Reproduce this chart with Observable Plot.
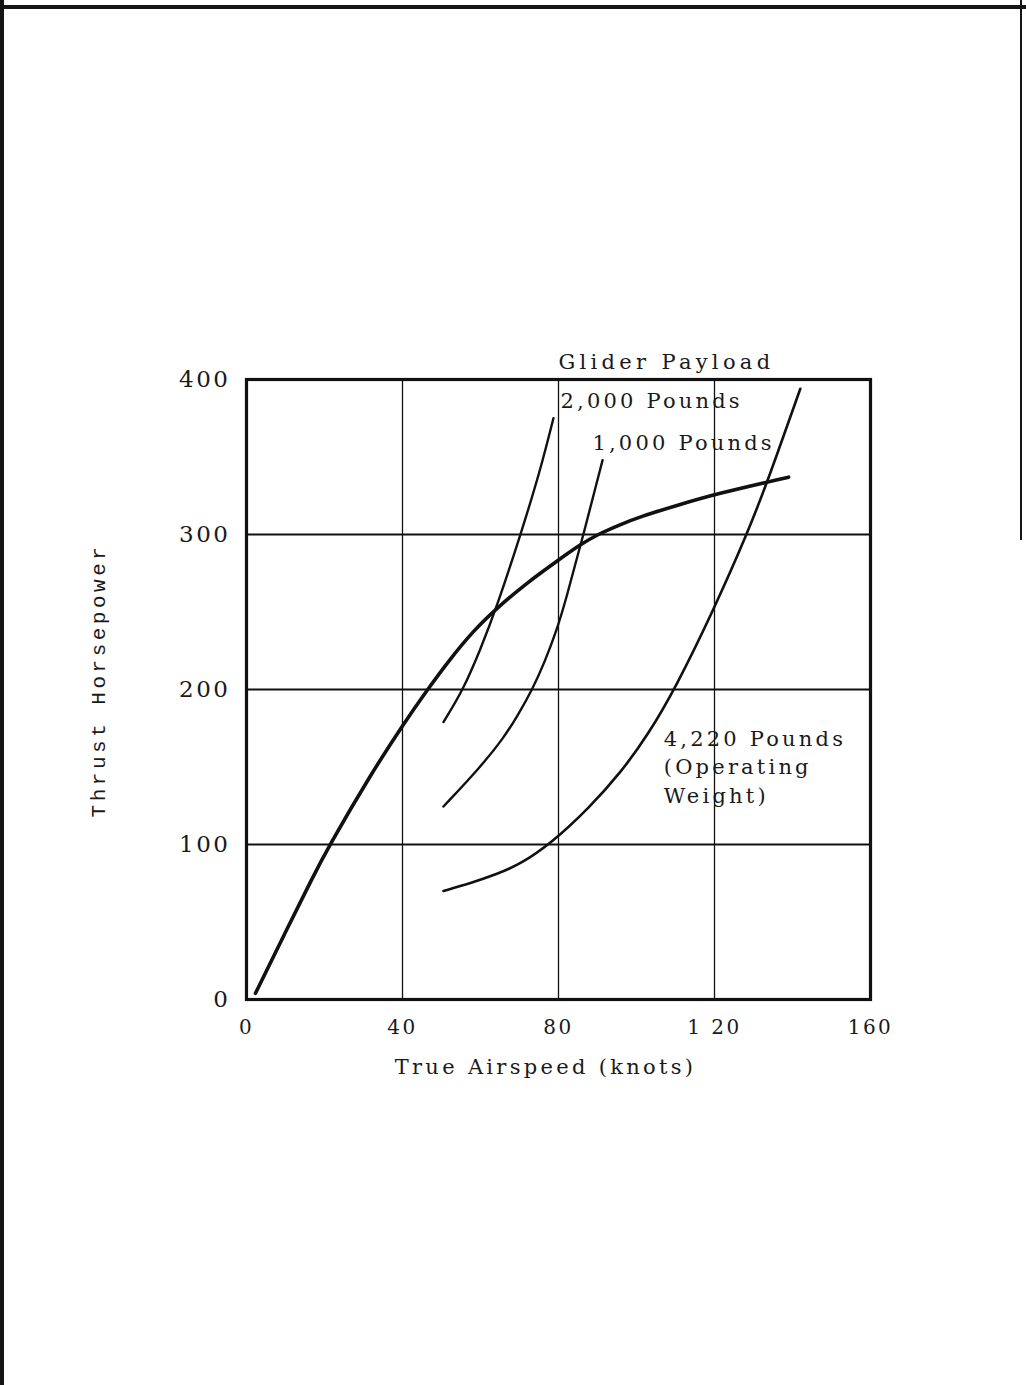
<!DOCTYPE html>
<html><head><meta charset="utf-8">
<script src="https://cdn.jsdelivr.net/npm/d3@7"></script>
<script src="https://cdn.jsdelivr.net/npm/@observablehq/plot@0.6"></script>
<style>
html,body{margin:0;padding:0;background:#fff;}
body{width:1026px;height:1385px;position:relative;overflow:hidden;}
#chart{position:absolute;left:0;top:0;}
.edge{position:absolute;background:#151515;}
</style></head><body>
<div class="edge" style="left:0;top:0;width:4px;height:1385px"></div>
<div class="edge" style="left:0;top:5px;width:1026px;height:4px"></div>
<div class="edge" style="left:1020px;top:0;width:2px;height:540px"></div>
<div id="chart"></div>
<script>
// Axis ticks
const xTicks = [0, 40, 80, 120, 160];
const yTicks = [0, 100, 200, 300, 400];
const gridX = [40, 80, 120];
const gridY = [100, 200, 300];

// Thrust horsepower available (thick curve)
const availSpeed = [2.3, 9.5, 17, 20.8, 31.8, 40.3, 46.7, 52, 58.2, 64.4, 72, 79.7, 85.6, 90, 95.9, 101, 110, 120, 139];
const availHp    = [4, 41, 79, 97.5, 145, 178, 201, 219, 238, 253, 269, 283, 293.5, 300, 306.5, 311.5, 318.5, 326, 337];

// Required: glider payload 2,000 lb
const p2000Speed = [50.5, 55.6, 60, 64, 70.3, 75.4, 78.7];
const p2000Hp    = [179, 200, 226, 252, 300, 342, 375];

// Required: glider payload 1,000 lb
const p1000Speed = [50.5, 60, 66, 69.5, 73.3, 76.5, 79.5, 81.8, 86.4, 91.3];
const p1000Hp    = [124.5, 150, 169, 183, 200, 218, 238, 257, 300, 348];

// Required: 4,220 lb (operating weight)
const p4220Speed = [50.5, 57.4, 64.4, 70.3, 78, 88, 96, 103, 110, 119.7, 128.5, 134, 142];
const p4220Hp    = [70, 75, 81, 87.5, 100.5, 124, 146.5, 171, 201, 251, 301, 337, 394];

// Annotation texts
const labelText = ["Glider Payload", "2,000 Pounds", "1,000 Pounds", "4,220 Pounds", "(Operating", "Weight)"];
const labelX    = [80, 80.5, 88.7, 107, 107, 107];
const labelY    = [411, 386, 359, 168, 150, 131];

const toRows = (xs, ys) => xs.map((x, i) => ({x, y: ys[i]}));
const labels = labelText.map((t, i) => ({t, x: labelX[i], y: labelY[i]}));

const chart = Plot.plot({
  width: 1026,
  height: 1110,
  marginLeft: 246,
  marginRight: 156,
  marginTop: 379,
  marginBottom: 111,
  style: {fontFamily: "DejaVu Serif", color: "#1a1a1a", background: "transparent"},
  x: {domain: [0, 160]},
  y: {domain: [0, 400]},
  marks: [
    Plot.ruleX(gridX, {stroke: "#111", strokeWidth: 1.3}),
    Plot.ruleY(gridY, {stroke: "#111", strokeWidth: 2.2}),
    Plot.frame({stroke: "#111", strokeWidth: 3.2}),
    Plot.axisX({ticks: xTicks, tickSize: 0, tickPadding: 20, fontSize: 20, label: null, tickFormat: d => d === 120 ? "1 20" : String(d)}),
    Plot.axisY({ticks: yTicks, tickSize: 0, tickPadding: 16, fontSize: 23, label: null}),
    Plot.text(["True Airspeed (knots)"], {frameAnchor: "bottom", dx: -13, dy: 74, fontSize: 21, fill: "#1a1a1a", className: "axtitle"}),
    Plot.text(["Thrust Horsepower"], {frameAnchor: "left", dx: -148, dy: -9, rotate: -90, textAnchor: "middle", fontSize: 21, fontFamily: "Liberation Mono", fill: "#1a1a1a", className: "ytitle"}),
    Plot.line(toRows(availSpeed, availHp), {x: "x", y: "y", curve: "basis", stroke: "#111", strokeWidth: 3.6}),
    Plot.line(toRows(p2000Speed, p2000Hp), {x: "x", y: "y", curve: "basis", stroke: "#111", strokeWidth: 2.4}),
    Plot.line(toRows(p1000Speed, p1000Hp), {x: "x", y: "y", curve: "basis", stroke: "#111", strokeWidth: 2.4}),
    Plot.line(toRows(p4220Speed, p4220Hp), {x: "x", y: "y", curve: "basis", stroke: "#111", strokeWidth: 2.6}),
    Plot.text(labels, {x: "x", y: "y", text: "t", textAnchor: "start", fontSize: 21, fill: "#1a1a1a", className: "annot"})
  ]
});
d3.select(chart).selectAll("text").style("letter-spacing", "2.5px");
d3.select(chart).selectAll(".annot text").style("letter-spacing", "3.2px");
d3.select(chart).selectAll(".annot text").filter(d => labelText[d] === "Glider Payload").style("letter-spacing", "4.3px");
d3.select(chart).selectAll(".axtitle text").style("letter-spacing", "3.3px");
d3.select(chart).selectAll(".ytitle text").style("letter-spacing", "3.5px");
document.getElementById("chart").append(chart);
</script>
</body></html>
